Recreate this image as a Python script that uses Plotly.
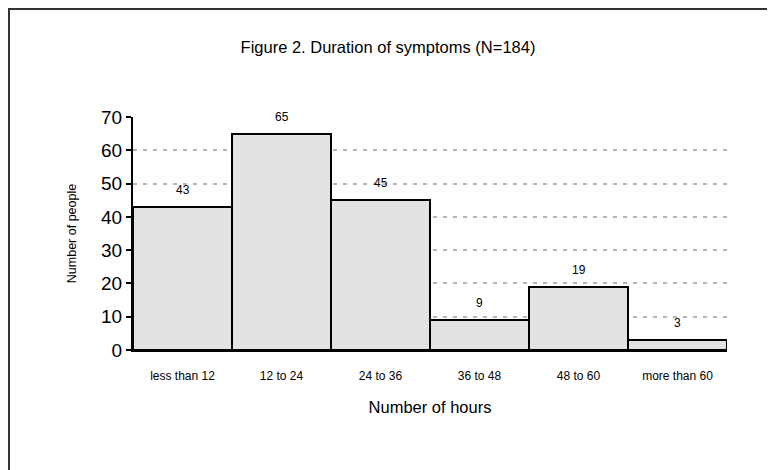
import plotly.graph_objects as go

categories = ["less than 12", "12 to 24", "24 to 36", "36 to 48", "48 to 60", "more than 60"]
counts = [43, 65, 45, 9, 19, 3]
y_ticks = [0, 10, 20, 30, 40, 50, 60, 70]

OFF = 8  # page body margin
W, H = 775 - OFF, 470 - OFF
L, T = 133 - OFF, 117 - OFF
R = W - (727 - OFF)
B = H - (350 - OFF)
pw, ph = W - L - R, H - T - B

def fx(p):  # figure pixel -> paper x
    return (p - L) / pw

def fy(p):  # figure pixel -> paper y
    return (H - B - p) / ph

fig = go.Figure()
fig.add_trace(go.Bar(
    x=categories, y=counts,
    marker=dict(
        color="#ffffff",
        line=dict(color="#000000", width=2),
        pattern=dict(shape=".", fgcolor="#8a8a8a", bgcolor="#ffffff", size=2, solidity=0.55),
    ),
    width=1.0,
    showlegend=False,
))

for c, v in zip(categories, counts):
    fig.add_annotation(x=c, y=v, text=str(v), showarrow=False, yshift=17,
                       font=dict(family="Liberation Sans, Arial", size=12, color="#000"))

# outer border
fig.add_shape(type="rect", xref="paper", yref="paper",
              x0=fx(1), x1=fx(W + 20), y0=fy(H + 20), y1=fy(1),
              line=dict(color="#333333", width=2), layer="below")

fig.update_layout(
    width=W, height=H,
    margin=dict(l=L, r=R, t=T, b=B),
    paper_bgcolor="white", plot_bgcolor="white",
    bargap=0,
    title=dict(text="Figure 2. Duration of symptoms (N=184)", x=(388 - OFF) / W, xref="container",
               y=1 - (47 - OFF) / H, yref="container", yanchor="middle", xanchor="center",
               font=dict(family="Liberation Sans, Arial", size=16.5, color="#000")),
    font=dict(family="Liberation Sans, Arial", color="#000"),
)
fig.update_xaxes(
    showline=True, linecolor="#000", linewidth=2,
    ticks="", tickfont=dict(size=12), ticklabelstandoff=14,
    title=dict(text="Number of hours", font=dict(size=16.5), standoff=19),
    range=[-0.5, 5.5], showgrid=False,
)
fig.update_yaxes(
    range=[0, 70], tickvals=y_ticks,
    showline=True, linecolor="#000", linewidth=2,
    ticks="outside", ticklen=5, tickwidth=1.5, tickcolor="#000",
    tickfont=dict(size=19),
    showgrid=True, gridcolor="#b4b4b4", gridwidth=2, griddash="4px,6px",
    zeroline=False,
    title=dict(text="Number of people", font=dict(size=12.5), standoff=22),
)

fig.write_html("out.html")
